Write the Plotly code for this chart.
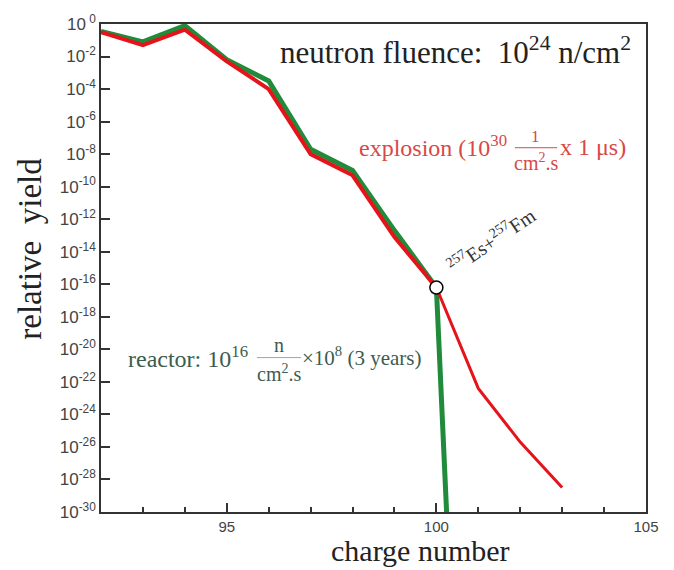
import plotly.graph_objects as go

# ---- data ----
charge_explosion = [92, 93, 94, 95, 96, 97, 98, 99, 100, 101, 102, 103]
log_yield_explosion = [-0.5, -1.3, -0.35, -2.3, -4.0, -8.0, -9.3, -13.1, -16.2, -22.4, -25.7, -28.5]

charge_reactor = [92, 93, 94, 95, 96, 97, 98, 99, 100, 100.02, 100.07, 100.15, 100.24, 100.27]
log_yield_reactor = [-0.45, -1.1, -0.1, -2.2, -3.5, -7.7, -9.0, -12.7, -16.2, -17.3, -20.1, -25.2, -30.0, -31.5]

marker_charge = [100]
marker_log_yield = [-16.2]

ytick_exponents = list(range(0, -31, -2))
xtick_major = [95, 100, 105]

yield_explosion = [10 ** v for v in log_yield_explosion]
yield_reactor = [10 ** v for v in log_yield_reactor]
marker_yield = [10 ** v for v in marker_log_yield]

RED = "#e5141b"
GREEN = "#1f8b3b"
SERIF = "Liberation Serif"
SANS = "Liberation Sans"

W, H = 674, 570
L, R, T, B = 101, 646, 19, 512


def px(x):
    return (x - L) / (R - L)


def py(y):
    return (B - y) / (B - T)


fig = go.Figure()

fig.add_trace(go.Scatter(x=charge_reactor, y=yield_reactor, mode="lines",
                         line=dict(color=GREEN, width=5), hoverinfo="skip"))
split = charge_explosion.index(100) + 1
fig.add_trace(go.Scatter(x=charge_explosion[:split], y=yield_explosion[:split], mode="lines",
                         line=dict(color=RED, width=4), hoverinfo="skip"))
fig.add_trace(go.Scatter(x=charge_explosion[split - 1:], y=yield_explosion[split - 1:], mode="lines",
                         line=dict(color=RED, width=3), hoverinfo="skip"))
fig.add_trace(go.Scatter(x=marker_charge, y=marker_yield, mode="markers",
                         marker=dict(size=13, color="white", line=dict(color="black", width=1.5)),
                         hoverinfo="skip"))

ann = []


def txt(x, y, text, size, color="#222", xanchor="center", yanchor="middle", angle=0, font=SERIF):
    ann.append(dict(x=px(x), y=py(y), xref="paper", yref="paper", text=text, showarrow=False,
                    xanchor=xanchor, yanchor=yanchor, textangle=angle, borderpad=0,
                    font=dict(family=font, size=size, color=color)))


# title-like label
txt(632, 46, "neutron fluence:  10<sup>24</sup> n/cm<sup>2</sup>", 31, "#222", xanchor="right")

# explosion label
EXC = "#d84848"
txt(358, 142, "explosion (10<sup>30</sup>", 24, EXC, xanchor="left")
txt(535, 133, "1", 17, EXC)
txt(536, 158, "cm<sup>2</sup>.s", 20, EXC)
txt(559, 143, "x 1 \u03bcs)", 24, EXC, xanchor="left")

# reactor label
RC = "#3c5c50"
txt(127, 355, "reactor: 10<sup>16</sup>", 24, RC, xanchor="left")
txt(279, 343, "n", 20, RC)
txt(279, 372, "cm<sup>2</sup>.s", 20, RC)
txt(301, 355, "\u00d710<sup>8</sup> (3 years)", 21, RC, xanchor="left")

# isotope label
txt(491, 237, "<sup>257</sup>Es+<sup>257</sup>Fm", 20, "#333", angle=-34)

# axis titles
txt(420, 551, "charge number", 30, "#222")
txt(30, 246, "relative  yield", 33, "#222", angle=-90)

shapes = [
    dict(type="line", xref="paper", yref="paper", x0=px(515), x1=px(557), y0=py(144), y1=py(144),
         line=dict(color=EXC, width=1)),
    dict(type="line", xref="paper", yref="paper", x0=px(257), x1=px(301), y0=py(356), y1=py(356),
         line=dict(color="#9aa9a2", width=1)),
]

fig.update_layout(
    width=W, height=H,
    margin=dict(l=L, r=W - R, t=T, b=H - B),
    paper_bgcolor="white", plot_bgcolor="white",
    showlegend=False,
    annotations=ann,
    shapes=shapes,
    xaxis=dict(range=[92, 105], tickvals=xtick_major, ticktext=[str(v) for v in xtick_major],
               ticks="inside", ticklen=9, tickwidth=1.5, tickcolor="#333", ticklabelstandoff=0,
               minor=dict(dtick=1, tick0=92, ticks="inside", ticklen=5, tickwidth=1.5, tickcolor="#333"),
               showline=True, mirror=True, linecolor="#333", linewidth=1.5,
               showgrid=False, zeroline=False,
               tickfont=dict(family=SANS, size=15, color="#444")),
    yaxis=dict(type="log", range=[-30, 0],
               tickvals=[10 ** e for e in ytick_exponents],
               ticktext=[f"10<sup>{e}</sup>" if e != 0 else "10<sup> 0</sup>" for e in ytick_exponents],
               ticks="inside", ticklen=9, tickwidth=1.5, tickcolor="#333",
               showline=True, mirror=True, linecolor="#333", linewidth=1.5,
               showgrid=False, zeroline=False,
               tickfont=dict(family=SANS, size=17, color="#444")),
)

fig.write_html("out.html")
